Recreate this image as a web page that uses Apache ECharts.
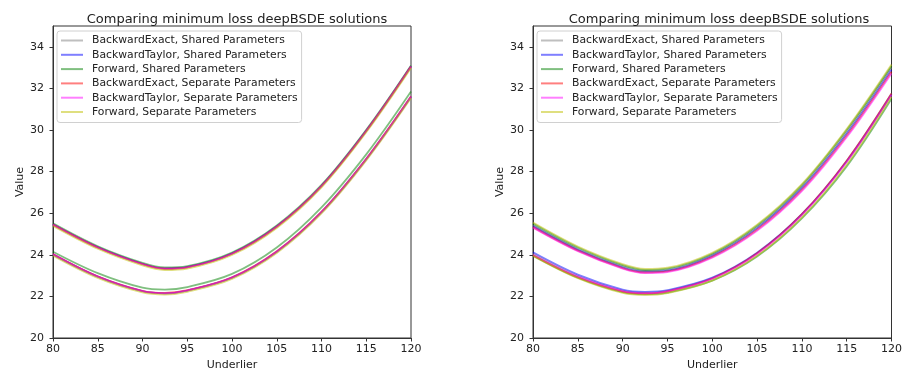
<!DOCTYPE html>
<html>
<head>
<meta charset="utf-8">
<script src="https://cdn.jsdelivr.net/npm/echarts@6/dist/echarts.min.js"></script>
<style>
  html, body { margin: 0; padding: 0; background: #fff; }
  #chart { width: 905px; height: 376px; }
</style>
</head>
<body>
<div id="chart"></div>
<script>
// x positions (underlier)
const underlier = [80, 85, 90, 92.5, 95, 100, 105, 110, 115, 120];

const seriesNames = [
  'BackwardExact, Shared Parameters',
  'BackwardTaylor, Shared Parameters',
  'Forward, Shared Parameters',
  'BackwardExact, Separate Parameters',
  'BackwardTaylor, Separate Parameters',
  'Forward, Separate Parameters'
];
const seriesColors = ['#808080', '#0000ff', '#008000', '#ff0000', '#ff00ff', '#bfbf00'];

// left panel: two curves per method
const leftExactShared = [
  [25.45, 24.35, 23.55, 23.33, 23.4, 24.05, 25.35, 27.3, 29.95, 33.05],
  [24.02, 22.95, 22.25, 22.15, 22.28, 22.9, 24.15, 26.05, 28.6, 31.6]
];
const leftTaylorShared = [
  [25.47, 24.37, 23.57, 23.35, 23.42, 24.07, 25.37, 27.32, 29.97, 33.07],
  [24.02, 22.95, 22.25, 22.15, 22.28, 22.9, 24.15, 26.05, 28.6, 31.6]
];
const leftForwardShared = [
  [25.51, 24.41, 23.61, 23.39, 23.46, 24.11, 25.41, 27.36, 30.01, 33.1],
  [24.15, 23.12, 22.42, 22.33, 22.45, 23.08, 24.35, 26.28, 28.83, 31.85]
];
const leftExactSeparate = [
  [25.45, 24.35, 23.55, 23.33, 23.4, 24.05, 25.35, 27.3, 29.95, 33.05],
  [24.04, 22.97, 22.27, 22.17, 22.3, 22.92, 24.17, 26.07, 28.62, 31.62]
];
const leftTaylorSeparate = [
  [25.45, 24.35, 23.55, 23.33, 23.4, 24.05, 25.35, 27.3, 29.95, 33.05],
  [24.02, 22.95, 22.25, 22.15, 22.28, 22.9, 24.15, 26.05, 28.6, 31.6]
];
const leftForwardSeparate = [
  [25.39, 24.29, 23.49, 23.27, 23.34, 23.99, 25.29, 27.24, 29.89, 32.98],
  [23.96, 22.89, 22.19, 22.09, 22.22, 22.84, 24.09, 25.99, 28.54, 31.54]
];

// right panel
const rightExactShared = [
  [25.42, 24.28, 23.45, 23.23, 23.28, 24.0, 25.33, 27.27, 29.9, 33.0],
  [24.05, 22.98, 22.28, 22.18, 22.27, 22.88, 24.08, 25.95, 28.52, 31.75]
];
const rightTaylorShared = [
  [25.38, 24.24, 23.4, 23.19, 23.24, 23.95, 25.27, 27.2, 29.82, 32.9],
  [24.12, 23.05, 22.33, 22.22, 22.3, 22.9, 24.1, 25.95, 28.5, 31.72]
];
const rightForwardShared = [
  [25.5, 24.35, 23.5, 23.27, 23.33, 24.05, 25.4, 27.35, 30.0, 33.08],
  [23.96, 22.9, 22.2, 22.1, 22.18, 22.76, 23.92, 25.75, 28.25, 31.5]
];
const rightExactSeparate = [
  [25.33, 24.2, 23.36, 23.15, 23.2, 23.9, 25.2, 27.12, 29.72, 32.8],
  [23.98, 22.92, 22.23, 22.14, 22.24, 22.86, 24.07, 25.95, 28.52, 31.75]
];
const rightTaylorSeparate = [
  [25.3, 24.17, 23.33, 23.12, 23.17, 23.86, 25.15, 27.06, 29.65, 32.72],
  [24.0, 22.95, 22.25, 22.15, 22.24, 22.85, 24.03, 25.9, 28.45, 31.68]
];
const rightForwardSeparate = [
  [25.55, 24.4, 23.55, 23.32, 23.38, 24.1, 25.45, 27.4, 30.05, 33.15],
  [23.95, 22.88, 22.17, 22.07, 22.16, 22.76, 23.95, 25.8, 28.33, 31.6]
];

const xTicks = { min: 80, max: 120, interval: 5 };
const yTicks = { min: 20, max: 35, interval: 2 };

const leftPanel = [leftExactShared, leftTaylorShared, leftForwardShared,
  leftExactSeparate, leftTaylorSeparate, leftForwardSeparate];
const rightPanel = [rightExactShared, rightTaylorShared, rightForwardShared,
  rightExactSeparate, rightTaylorSeparate, rightForwardSeparate];

const chart = echarts.init(document.getElementById('chart'));
const font = 'DejaVu Sans';

function panelSeries(panel, idx) {
  const out = [];
  panel.forEach((curves, i) => {
    curves.forEach(vals => {
      out.push({
        name: seriesNames[i],
        type: 'line',
        xAxisIndex: idx,
        yAxisIndex: idx,
        smooth: 0.35,
        symbol: 'none',
        color: seriesColors[i],
        lineStyle: { width: 1.8, opacity: 0.5 },
        data: underlier.map((x, k) => [x, vals[k]])
      });
    });
  });
  return out;
}

function xAxis(idx) {
  return {
    type: 'value', gridIndex: idx,
    min: xTicks.min, max: xTicks.max, interval: xTicks.interval,
    name: 'Underlier', nameLocation: 'middle', nameGap: 22,
    nameTextStyle: { fontFamily: font, fontSize: 11, color: '#222' },
    axisLine: { show: true, lineStyle: { color: '#333' } },
    axisTick: { show: true, length: 3.5, lineStyle: { color: '#333' } },
    axisLabel: { fontFamily: font, fontSize: 11, color: '#222', margin: 6 },
    splitLine: { show: false }
  };
}

function yAxis(idx) {
  return {
    type: 'value', gridIndex: idx,
    min: yTicks.min, max: yTicks.max, interval: yTicks.interval,
    name: 'Value', nameLocation: 'middle', nameGap: 27,
    nameTextStyle: { fontFamily: font, fontSize: 11, color: '#222' },
    axisLine: { show: true, lineStyle: { color: '#333' } },
    axisTick: { show: true, length: 3.5, lineStyle: { color: '#333' } },
    axisLabel: { fontFamily: font, fontSize: 11, color: '#222', margin: 9, showMaxLabel: false },
    splitLine: { show: false }
  };
}

function legend(left) {
  return {
    orient: 'vertical', left: left, top: 31,
    data: seriesNames,
    icon: 'rect', itemWidth: 22, itemHeight: 2, itemGap: 1.3,
    itemStyle: { opacity: 0.5 },
    padding: [3, 4, 4, 4],
    borderColor: '#d0d0d0', borderWidth: 1, borderRadius: 3,
    backgroundColor: 'rgba(255,255,255,0.85)',
    selectedMode: false,
    textStyle: { fontFamily: font, fontSize: 10.8, color: '#222', lineHeight: 13, padding: [0, 0, 0, 4] }
  };
}

const titleText = 'Comparing minimum loss deepBSDE solutions';
const titleStyle = { fontFamily: font, fontSize: 13, fontWeight: 'normal', color: '#222' };

chart.setOption({
  animation: false,
  title: [
    { text: titleText, left: 232, top: 8, textAlign: 'center', textStyle: titleStyle },
    { text: titleText, left: 714, top: 8, textAlign: 'center', textStyle: titleStyle }
  ],
  legend: [legend(57), legend(537)],
  grid: [
    { left: 53, right: 494, top: 26, bottom: 35, show: true, borderColor: '#333', borderWidth: 1 },
    { left: 533, right: 10, top: 26, bottom: 32, show: true, borderColor: '#333', borderWidth: 1 }
  ],
  xAxis: [xAxis(0), xAxis(1)],
  yAxis: [yAxis(0), yAxis(1)],
  series: panelSeries(leftPanel, 0).concat(panelSeries(rightPanel, 1))
});
</script>
</body>
</html>
